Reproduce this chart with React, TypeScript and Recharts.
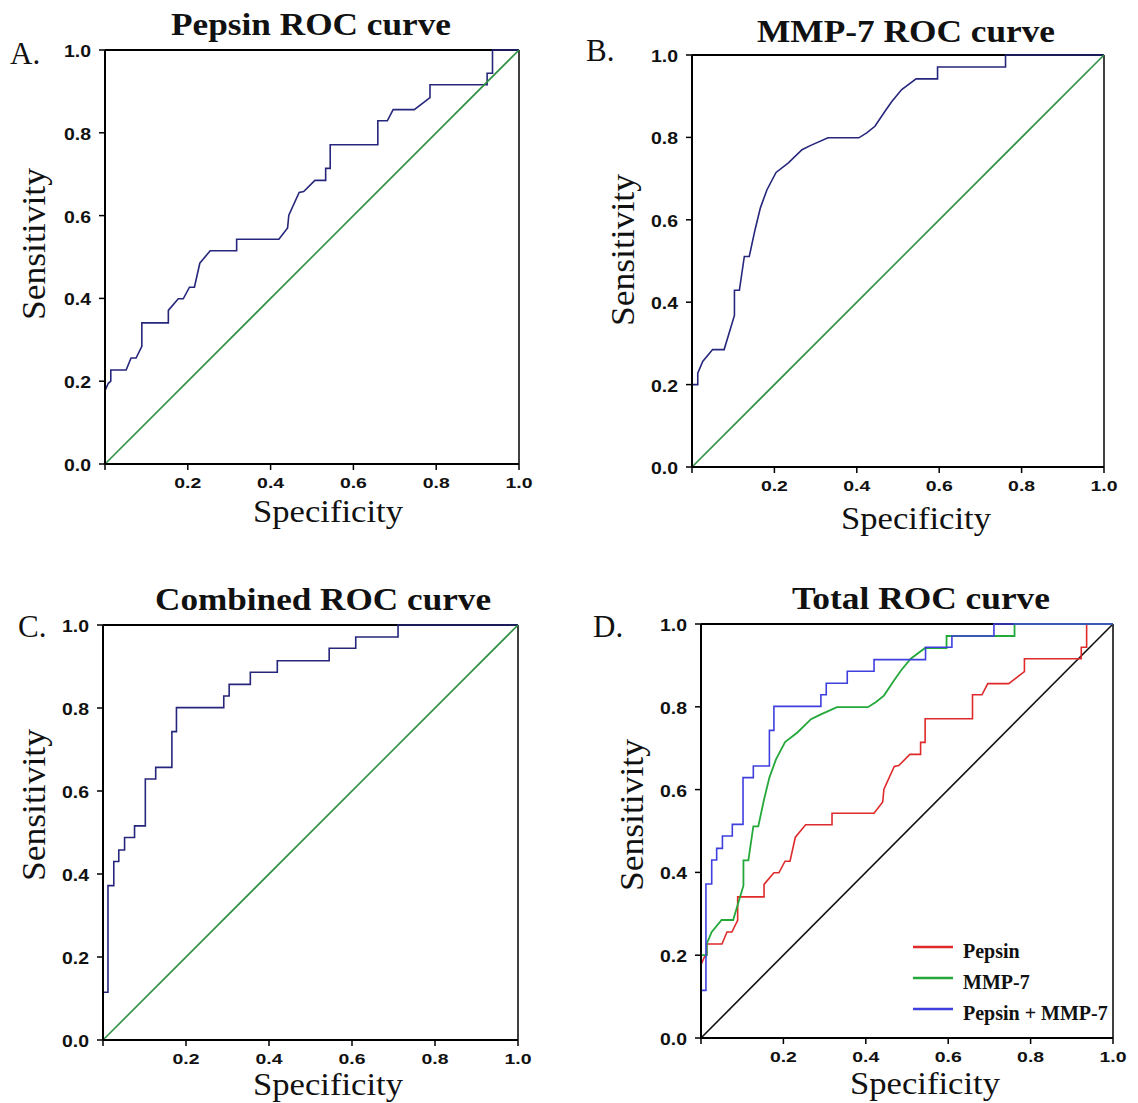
import React from 'react';
import { LineChart, Line, XAxis, YAxis, ReferenceLine, Legend } from 'recharts';

// ---- Data (1 - specificity on x, sensitivity on y) ----
const pepsinX = [0, 0, 0.008, 0.014, 0.014, 0.051, 0.063, 0.075, 0.089, 0.089, 0.153, 0.153, 0.177, 0.189, 0.204, 0.216, 0.229, 0.254, 0.318, 0.318, 0.42, 0.441, 0.444, 0.469, 0.48, 0.507, 0.533, 0.533, 0.544, 0.544, 0.659, 0.659, 0.682, 0.696, 0.747, 0.785, 0.785, 0.923, 0.923, 0.936, 0.936, 1.0];
const pepsinY = [0, 0.177, 0.195, 0.2, 0.227, 0.227, 0.256, 0.256, 0.284, 0.341, 0.341, 0.371, 0.399, 0.399, 0.427, 0.427, 0.485, 0.515, 0.515, 0.543, 0.543, 0.57, 0.601, 0.656, 0.658, 0.685, 0.685, 0.714, 0.714, 0.771, 0.771, 0.829, 0.829, 0.856, 0.856, 0.885, 0.916, 0.916, 0.944, 0.944, 1.0, 1.0];

const mmp7X = [0, 0, 0.014, 0.014, 0.026, 0.05, 0.078, 0.103, 0.103, 0.115, 0.127, 0.139, 0.153, 0.166, 0.182, 0.204, 0.234, 0.267, 0.287, 0.33, 0.405, 0.424, 0.444, 0.468, 0.485, 0.509, 0.544, 0.596, 0.596, 0.761, 0.761, 1.0];
const mmp7Y = [0, 0.2, 0.2, 0.228, 0.256, 0.285, 0.285, 0.368, 0.429, 0.429, 0.511, 0.511, 0.576, 0.629, 0.673, 0.715, 0.738, 0.77, 0.78, 0.799, 0.799, 0.811, 0.827, 0.863, 0.887, 0.916, 0.942, 0.942, 0.971, 0.971, 1.0, 1.0];

const combinedX = [0, 0, 0.012, 0.012, 0.026, 0.026, 0.038, 0.038, 0.052, 0.052, 0.076, 0.076, 0.102, 0.102, 0.127, 0.127, 0.166, 0.166, 0.177, 0.177, 0.291, 0.291, 0.304, 0.304, 0.355, 0.355, 0.42, 0.42, 0.545, 0.545, 0.609, 0.609, 0.711, 0.711, 1.0];
const combinedY = [0, 0.115, 0.115, 0.372, 0.372, 0.43, 0.43, 0.458, 0.458, 0.488, 0.488, 0.516, 0.516, 0.629, 0.629, 0.657, 0.657, 0.743, 0.743, 0.801, 0.801, 0.829, 0.829, 0.857, 0.857, 0.886, 0.886, 0.914, 0.914, 0.944, 0.944, 0.971, 0.971, 1.0, 1.0];

const diagonalX = [0, 1];
const diagonalY = [0, 1];

const axisTicks = [0, 0.2, 0.4, 0.6, 0.8, 1.0];
const legendNames = ['Pepsin', 'MMP-7', 'Pepsin + MMP-7'];

const toPoints = (xs: number[], ys: number[]) => xs.map((x, i) => ({ x, y: ys[i] }));

const pepsinPts = toPoints(pepsinX, pepsinY);
const mmp7Pts = toPoints(mmp7X, mmp7Y);
const combinedPts = toPoints(combinedX, combinedY);
const diagonalPts = toPoints(diagonalX, diagonalY);

const SERIF = "'Liberation Serif', 'Times New Roman', serif";
const SANS = "'Liberation Sans', Arial, sans-serif";

const NAVY = '#26267c';
const DIAG_GREEN = '#2f8f42';
const RED = '#de2a2a';
const GREEN = '#24a83a';
const BLUE = '#3f3fe0';

const XTick = (props: any) => {
  const { x, y, payload } = props;
  if (payload.value === 0) return null;
  return (
    <text x={x} y={y + 16} textAnchor="middle" fontFamily={SANS} fontWeight="bold" fontSize={15}
      textLength={27} lengthAdjust="spacingAndGlyphs" fill="#111">
      {Number(payload.value).toFixed(1)}
    </text>
  );
};

const YTick = (props: any) => {
  const { x, y, payload } = props;
  return (
    <text x={x} y={y + 7} textAnchor="end" fontFamily={SANS} fontWeight="bold" fontSize={17}
      textLength={27} lengthAdjust="spacingAndGlyphs" fill="#111">
      {Number(payload.value).toFixed(1)}
    </text>
  );
};

type Series = { name: string; data: { x: number; y: number }[]; color: string; width: number };
type Plot = { l: number; t: number; r: number; b: number };

const ML = 100, MT = 20, MR = 30, MB = 40;

const LegendContent = () => {
  const colors = [RED, GREEN, BLUE];
  return (
    <svg width={230} height={100} style={{ overflow: 'visible' }}>
      {legendNames.map((n, i) => (
        <g key={n}>
          <line x1={23} x2={63} y1={17 + i * 31} y2={17 + i * 31} stroke={colors[i]} strokeWidth={2.5} />
          <text x={73} y={28 + i * 31} fontFamily={SERIF} fontWeight="bold" fontSize={20} fill="#111">{n}</text>
        </g>
      ))}
    </svg>
  );
};

function Panel({ plot, series, legendPos }: { plot: Plot; series: Series[]; legendPos?: { left: number; top: number } }) {
  const w = plot.r - plot.l + ML + MR;
  const h = plot.b - plot.t + MT + MB;
  return (
    <div style={{ position: 'absolute', left: plot.l - ML, top: plot.t - MT }}>
      <LineChart width={w} height={h} margin={{ top: MT, right: MR, left: 0, bottom: 0 }}>
        <XAxis type="number" dataKey="x" domain={[0, 1]} ticks={axisTicks} height={MB}
          tick={<XTick />} tickSize={6} tickMargin={2} interval={0}
          axisLine={{ stroke: '#000', strokeWidth: 2 }} tickLine={{ stroke: '#000', strokeWidth: 1.5 }} />
        <YAxis type="number" dataKey="y" domain={[0, 1]} ticks={axisTicks} width={ML}
          tick={<YTick />} tickSize={6} tickMargin={8} interval={0}
          axisLine={{ stroke: '#000', strokeWidth: 2 }} tickLine={{ stroke: '#000', strokeWidth: 1.5 }} />
        <ReferenceLine y={1} stroke="#000" strokeWidth={2} />
        <ReferenceLine x={1} stroke="#000" strokeWidth={1.5} />
        {series.map((s) => (
          <Line key={s.name} name={s.name} data={s.data} dataKey="y" type="linear" stroke={s.color}
            strokeWidth={s.width} dot={false} activeDot={false} isAnimationActive={false} legendType="none" />
        ))}
        {legendPos && (
          <Legend layout="vertical" align="center" verticalAlign="middle" content={<LegendContent />}
            wrapperStyle={{ left: legendPos.left, top: legendPos.top, width: 230, height: 100 }} />
        )}
      </LineChart>
    </div>
  );
}

const plotA: Plot = { l: 105, t: 50, r: 519, b: 464 };
const plotB: Plot = { l: 692, t: 55, r: 1104, b: 467 };
const plotC: Plot = { l: 103, t: 625, r: 518, b: 1040 };
const plotD: Plot = { l: 701, t: 624, r: 1113, b: 1038 };

const Title = ({ x, y, text, len }: { x: number; y: number; text: string; len: number }) => (
  <text x={x} y={y} textAnchor="middle" fontFamily={SERIF} fontWeight="bold" fontSize={32}
    textLength={len} lengthAdjust="spacingAndGlyphs" fill="#111">{text}</text>
);

const Letter = ({ x, y, text }: { x: number; y: number; text: string }) => (
  <text x={x} y={y} fontFamily={SERIF} fontSize={31} fill="#111">{text}</text>
);

const XTitle = ({ x, y, size }: { x: number; y: number; size: number }) => (
  <text x={x} y={y} textAnchor="middle" fontFamily={SERIF} fontSize={size}
    textLength={150} lengthAdjust="spacingAndGlyphs" fill="#111">Specificity</text>
);

const YTitle = ({ x, y }: { x: number; y: number }) => (
  <text transform={`translate(${x},${y}) rotate(-90)`} textAnchor="middle" fontFamily={SERIF} fontSize={34}
    textLength={152} lengthAdjust="spacingAndGlyphs" fill="#111">Sensitivity</text>
);

export default function App() {
  return (
    <div style={{ position: 'absolute', left: 0, top: 0, width: 1138, height: 1103, background: '#fff', overflow: 'hidden' }}>
      <Panel plot={plotA} series={[
        { name: 'Pepsin', data: pepsinPts, color: NAVY, width: 1.6 },
        { name: 'Reference', data: diagonalPts, color: DIAG_GREEN, width: 1.6 },
      ]} />
      <Panel plot={plotB} series={[
        { name: 'MMP-7', data: mmp7Pts, color: NAVY, width: 1.6 },
        { name: 'Reference', data: diagonalPts, color: DIAG_GREEN, width: 1.6 },
      ]} />
      <Panel plot={plotC} series={[
        { name: 'Pepsin + MMP-7', data: combinedPts, color: NAVY, width: 1.6 },
        { name: 'Reference', data: diagonalPts, color: DIAG_GREEN, width: 1.6 },
      ]} />
      <Panel plot={plotD} legendPos={{ left: 289, top: 326 }} series={[
        { name: 'Reference', data: diagonalPts, color: '#111', width: 1.6 },
        { name: 'Pepsin', data: pepsinPts, color: RED, width: 1.6 },
        { name: 'MMP-7', data: mmp7Pts, color: GREEN, width: 1.8 },
        { name: 'Pepsin + MMP-7', data: combinedPts, color: BLUE, width: 1.6 },
      ]} />
      <svg width={1138} height={1103} style={{ position: 'absolute', left: 0, top: 0, pointerEvents: 'none' }}>
        <Title x={311} y={35} text="Pepsin ROC curve" len={280} />
        <Title x={906} y={42} text="MMP-7 ROC curve" len={298} />
        <Title x={323} y={610} text="Combined ROC curve" len={336} />
        <Title x={921} y={609} text="Total ROC curve" len={258} />
        <Letter x={10} y={64} text="A." />
        <Letter x={586} y={61} text="B." />
        <Letter x={18} y={637} text="C." />
        <Letter x={593} y={637} text="D." />
        <XTitle x={328} y={522} size={32} />
        <XTitle x={916} y={529} size={32} />
        <XTitle x={328} y={1095} size={31} />
        <XTitle x={925} y={1094} size={31} />
        <YTitle x={45} y={244} />
        <YTitle x={634} y={250} />
        <YTitle x={45} y={805} />
        <YTitle x={643} y={815} />
      </svg>
    </div>
  );
}
